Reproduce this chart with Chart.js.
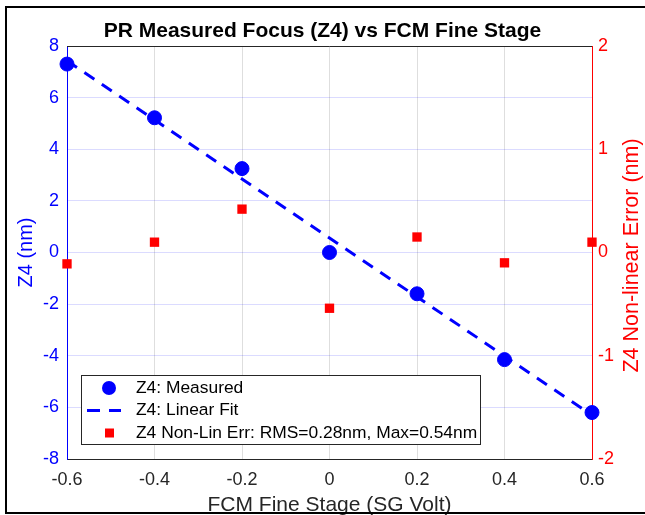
<!DOCTYPE html>
<html>
<head>
<meta charset="utf-8">
<script src="https://cdn.jsdelivr.net/npm/chart.js@4"></script>
<style>
  html, body { margin: 0; padding: 0; background: #fff; overflow: hidden; }
  #wrap { width: 645px; height: 515px; position: relative; }
</style>
</head>
<body>
<div id="wrap"><canvas id="myChart"></canvas></div>
<script>
// data
const stageVolts = [-0.6, -0.4, -0.2, 0, 0.2, 0.4, 0.6];
const z4Measured = [7.3, 5.22, 3.25, 0.0, -1.6, -4.15, -6.2];
const z4Fit = [7.43, 5.14, 2.85, 0.56, -1.72, -4.01, -6.30];
const z4NonLinErr = [-0.11, 0.1, 0.42, -0.54, 0.15, -0.1, 0.1];

const FONT = "'Liberation Sans', Arial, Helvetica, sans-serif";
const BLUE = '#0000ff';
const RED = '#ff0000';

const ctx = document.querySelector("#myChart").getContext('2d');

const pts = (ys) => stageVolts.map((x, i) => ({ x: x, y: ys[i] }));

// figure frame, top box line, right-axis title and the in-plot legend
const extras = {
  id: 'extras',
  afterDraw(chart) {
    const c = chart.ctx;
    const a = chart.chartArea;
    c.save();
    // top edge of the box
    c.strokeStyle = '#262626';
    c.lineWidth = 1;
    c.beginPath();
    c.moveTo(a.left, a.top + 0.5);
    c.lineTo(a.right, a.top + 0.5);
    c.stroke();

    // outer frame
    c.strokeStyle = '#000';
    c.lineWidth = 2;
    c.strokeRect(6, 7, 700, 506);

    // right axis title, reading bottom to top
    c.fillStyle = RED;
    c.font = '21.5px ' + FONT;
    c.textAlign = 'center';
    c.textBaseline = 'middle';
    c.translate(632, (a.top + a.bottom) / 2 + 3);
    c.rotate(-Math.PI / 2);
    c.fillText('Z4 Non-linear Error (nm)', 0, 0);
    c.restore();

    // legend
    const ds = chart.data.datasets;
    const lx = 81, ly = 375, lw = 399, lh = 69;
    c.save();
    c.fillStyle = '#fff';
    c.fillRect(lx, ly, lw, lh);
    c.strokeStyle = '#262626';
    c.lineWidth = 1;
    c.strokeRect(lx + 0.5, ly + 0.5, lw, lh);
    const rows = [388, 410.5, 433];
    c.font = '17.4px ' + FONT;
    c.textBaseline = 'middle';
    c.textAlign = 'left';
    // measured
    c.fillStyle = BLUE;
    c.beginPath();
    c.arc(109, rows[0], 7, 0, Math.PI * 2);
    c.fill();
    // fit
    c.strokeStyle = BLUE;
    c.lineWidth = 3;
    c.setLineDash([13, 9]);
    c.beginPath();
    c.moveTo(87, rows[1]);
    c.lineTo(121, rows[1]);
    c.stroke();
    c.setLineDash([]);
    // err
    c.fillStyle = RED;
    c.fillRect(105, rows[2] - 4.5, 9, 9);
    c.fillStyle = '#000';
    ds.forEach((d, i) => c.fillText(d.label, 136, rows[i]));
    c.restore();
  }
};

const config = {
  type: 'scatter',
  data: {
    datasets: [
      {
        label: 'Z4: Measured',
        data: pts(z4Measured),
        yAxisID: 'y',
        backgroundColor: BLUE,
        borderColor: BLUE,
        pointStyle: 'circle',
        pointRadius: 7,
        pointHoverRadius: 7,
        showLine: false,
        clip: false
      },
      {
        label: 'Z4: Linear Fit',
        data: pts(z4Fit),
        yAxisID: 'y',
        type: 'line',
        borderColor: BLUE,
        borderWidth: 3,
        borderDash: [12, 9],
        pointRadius: 0,
        fill: false,
        tension: 0,
        clip: false
      },
      {
        label: 'Z4 Non-Lin Err: RMS=0.28nm, Max=0.54nm',
        data: pts(z4NonLinErr),
        yAxisID: 'y2',
        backgroundColor: RED,
        borderColor: RED,
        borderWidth: 0,
        pointStyle: 'rect',
        pointRadius: 6.6,
        pointHoverRadius: 6.6,
        showLine: false,
        clip: false
      }
    ]
  },
  options: {
    responsive: true,
    maintainAspectRatio: false,
    animation: false,
    layout: { padding: 0 },
    plugins: {
      legend: { display: false },
      tooltip: { enabled: false },
      title: {
        display: true,
        text: 'PR Measured Focus (Z4) vs FCM Fine Stage',
        color: '#000',
        font: { family: FONT, size: 21, weight: 'bold' },
        padding: { top: 18.5, bottom: 2.3 }
      }
    },
    scales: {
      x: {
        type: 'linear',
        min: -0.6,
        max: 0.6,
        afterFit: s => { s.height = 56; },
        ticks: {
          stepSize: 0.2,
          color: '#262626',
          padding: 10,
          font: { family: FONT, size: 18 },
          callback: v => Number(v.toFixed(1)).toString()
        },
        grid: { color: 'rgba(0,0,0,0.13)', drawTicks: false },
        border: { color: '#262626', width: 1 },
        title: {
          display: true,
          text: 'FCM Fine Stage (SG Volt)',
          color: '#262626',
          font: { family: FONT, size: 21 },
          padding: { top: 0, bottom: -3 }
        }
      },
      y: {
        position: 'left',
        min: -8,
        max: 8,
        afterFit: s => { s.width = 67; },
        ticks: {
          stepSize: 2,
          color: BLUE,
          padding: 8,
          font: { family: FONT, size: 18 }
        },
        grid: { color: 'rgba(0,0,255,0.14)', drawTicks: false },
        border: { color: BLUE, width: 1 },
        title: {
          display: true,
          text: 'Z4 (nm)',
          color: BLUE,
          font: { family: FONT, size: 20 },
          padding: { top: 14.5, bottom: 0 }
        }
      },
      y2: {
        position: 'right',
        min: -2,
        max: 2,
        afterFit: s => { s.width = 53; },
        ticks: {
          stepSize: 1,
          color: RED,
          padding: 6,
          font: { family: FONT, size: 18 }
        },
        grid: { drawOnChartArea: false, drawTicks: false },
        border: { color: RED, width: 1 }
      }
    }
  },
  plugins: [extras]
};

const chart = new Chart(ctx, config);
</script>
</body>
</html>
